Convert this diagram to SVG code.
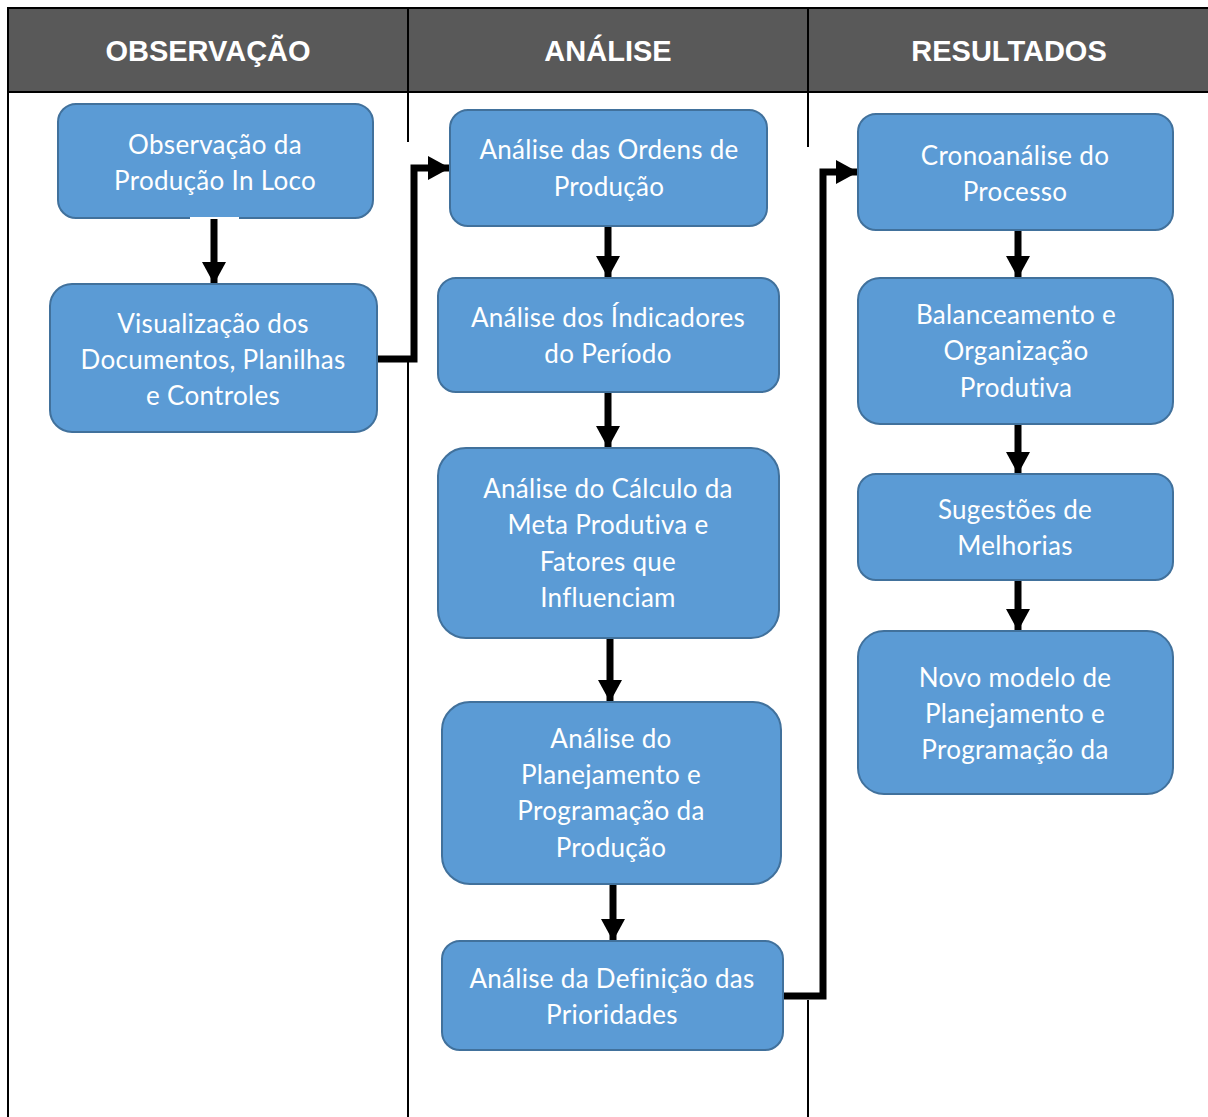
<svg xmlns="http://www.w3.org/2000/svg" width="1208" height="1117" viewBox="0 0 1208 1117">
<style>
.hdr{fill:#ffffff;font-family:"Liberation Sans",Arial,sans-serif;font-weight:bold;font-size:29px;text-anchor:middle}
.box{fill:#5B9BD5;stroke:#41719C;stroke-width:2}
.t{fill:#ffffff;font-family:Lato,"Open Sans",sans-serif;font-size:26px;letter-spacing:0.3px;text-anchor:middle}
.ln{stroke:#000;stroke-width:2;fill:none}
.con{stroke:#000;stroke-width:7;fill:none}
</style>
<defs>
<marker id="ah" markerUnits="userSpaceOnUse" markerWidth="24" markerHeight="26" refX="22" refY="12" orient="auto">
<path d="M0,0 L22,12 L0,24 Z" fill="#000"/>
</marker>
</defs>
<rect width="1208" height="1117" fill="#ffffff"/>
<g id="header">
<rect x="8" y="8" width="1200" height="84" fill="#595959"/>
<line class="ln" x1="7" y1="8" x2="1208" y2="8"/>
<line class="ln" x1="7" y1="92" x2="1208" y2="92"/>
<line class="ln" x1="8" y1="7" x2="8" y2="1117"/>
<line class="ln" x1="408" y1="8" x2="408" y2="142"/>
<line class="ln" x1="408" y1="362" x2="408" y2="1117"/>
<line class="ln" x1="808" y1="8" x2="808" y2="147"/>
<line class="ln" x1="808" y1="1000" x2="808" y2="1117"/>
<text class="hdr" x="208" y="61">OBSERVAÇÃO</text>
<text class="hdr" x="608" y="61">ANÁLISE</text>
<text class="hdr" x="1009" y="61">RESULTADOS</text>
</g>
<g id="connectors">
<line class="con" x1="214" y1="219" x2="214" y2="284" marker-end="url(#ah)"/>
<polyline class="con" points="377,359 414,359 414,168 450,168" marker-end="url(#ah)"/>
<line class="con" x1="608" y1="227" x2="608" y2="278" marker-end="url(#ah)"/>
<line class="con" x1="608" y1="393" x2="608" y2="448" marker-end="url(#ah)"/>
<line class="con" x1="610" y1="639" x2="610" y2="702" marker-end="url(#ah)"/>
<line class="con" x1="613" y1="885" x2="613" y2="941" marker-end="url(#ah)"/>
<polyline class="con" points="783,996 823,996 823,172 858,172" marker-end="url(#ah)"/>
<line class="con" x1="1018" y1="231" x2="1018" y2="278" marker-end="url(#ah)"/>
<line class="con" x1="1018" y1="425" x2="1018" y2="474" marker-end="url(#ah)"/>
<line class="con" x1="1018" y1="581" x2="1018" y2="631" marker-end="url(#ah)"/>
</g>
<g id="n1">
<rect class="box" x="58" y="104" width="315" height="114" rx="18"/>
<line x1="190" y1="218" x2="239" y2="218" stroke="#ffffff" stroke-width="2"/>
<text class="t" x="215" y="154">Observação da</text>
<text class="t" x="215" y="190">Produção In Loco</text>
</g>
<g id="n2">
<rect class="box" x="50" y="284" width="327" height="148" rx="22"/>
<text class="t" x="213" y="333">Visualização dos</text>
<text class="t" x="213" y="369">Documentos, Planilhas</text>
<text class="t" x="213" y="405">e Controles</text>
</g>
<g id="n3">
<rect class="box" x="450" y="110" width="317" height="116" rx="18"/>
<text class="t" x="609" y="159">Análise das Ordens de</text>
<text class="t" x="609" y="196">Produção</text>
</g>
<g id="n4">
<rect class="box" x="438" y="278" width="341" height="114" rx="18"/>
<text class="t" x="608" y="327">Análise dos Índicadores</text>
<text class="t" x="608" y="363">do Período</text>
</g>
<g id="n5">
<rect class="box" x="438" y="448" width="341" height="190" rx="28"/>
<text class="t" x="608" y="498">Análise do Cálculo da</text>
<text class="t" x="608" y="534">Meta Produtiva e</text>
<text class="t" x="608" y="571">Fatores que</text>
<text class="t" x="608" y="607">Influenciam</text>
</g>
<g id="n6">
<rect class="box" x="442" y="702" width="339" height="182" rx="28"/>
<text class="t" x="611" y="748">Análise do</text>
<text class="t" x="611" y="784">Planejamento e</text>
<text class="t" x="611" y="820">Programação da</text>
<text class="t" x="611" y="857">Produção</text>
</g>
<g id="n7">
<rect class="box" x="442" y="941" width="341" height="109" rx="18"/>
<text class="t" x="612" y="988">Análise da Definição das</text>
<text class="t" x="612" y="1024">Prioridades</text>
</g>
<g id="n8">
<rect class="box" x="858" y="114" width="315" height="116" rx="18"/>
<text class="t" x="1015" y="165">Cronoanálise do</text>
<text class="t" x="1015" y="201">Processo</text>
</g>
<g id="n9">
<rect class="box" x="858" y="278" width="315" height="146" rx="22"/>
<text class="t" x="1016" y="324">Balanceamento e</text>
<text class="t" x="1016" y="360">Organização</text>
<text class="t" x="1016" y="397">Produtiva</text>
</g>
<g id="n10">
<rect class="box" x="858" y="474" width="315" height="106" rx="18"/>
<text class="t" x="1015" y="519">Sugestões de</text>
<text class="t" x="1015" y="555">Melhorias</text>
</g>
<g id="n11">
<rect class="box" x="858" y="631" width="315" height="163" rx="26"/>
<text class="t" x="1015" y="687">Novo modelo de</text>
<text class="t" x="1015" y="723">Planejamento e</text>
<text class="t" x="1015" y="759">Programação da</text>
</g>
</svg>
